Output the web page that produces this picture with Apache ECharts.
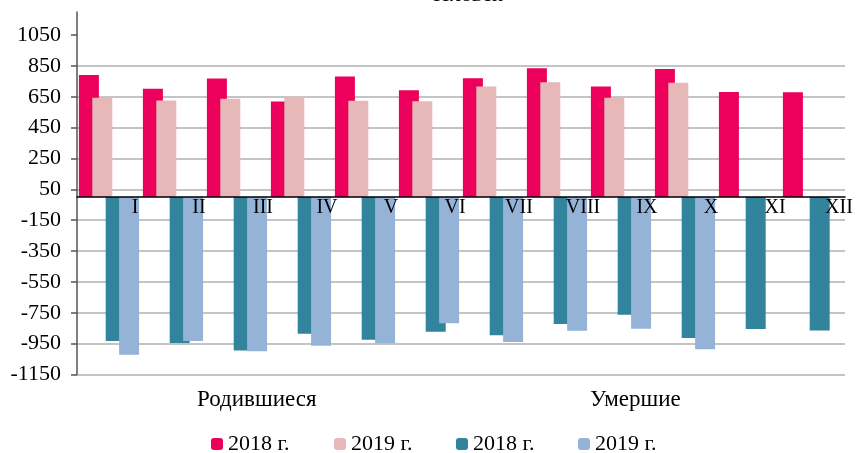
<!DOCTYPE html>
<html>
<head>
<meta charset="utf-8">
<script src="https://cdn.jsdelivr.net/npm/echarts@6/dist/echarts.min.js"></script>
<style>
html,body{margin:0;padding:0;background:#fff;}
#chart{width:856px;height:453px;}
</style>
</head>
<body>
<div id="chart"></div>
<script>
const categories = ['I','II','III','IV','V','VI','VII','VIII','IX','X','XI','XII'];
const births2018 = [791, 702, 769, 620, 782, 693, 771, 836, 717, 831, 682, 679];
const births2019 = [644, 627, 637, 650, 624, 622, 717, 745, 644, 741, null, null];
const deaths2018 = [-933, -946, -994, -886, -925, -873, -896, -823, -763, -914, -855, -864];
const deaths2019 = [-1022, -933, -1000, -964, -948, -818, -940, -866, -854, -987, null, null];
const yTicks = [-1150, -950, -750, -550, -350, -150, 50, 250, 450, 650, 850, 1050];
const seriesNames = ['2018 г.', '2019 г.', '2018 г. ', '2019 г. '];
const groupLabels = ['Родившиеся', 'Умершие'];
const titleText = 'Человек';

const FONT = '"Liberation Serif", "Times New Roman", serif';
const colors = ['#EC005C', '#E6B9B8', '#31849B', '#95B3D7'];

const chart = echarts.init(document.getElementById('chart'), null, {renderer: 'canvas'});

const legendLefts = [211, 334, 456, 578];
const legends = seriesNames.map((n, i) => ({
  data: [n],
  left: legendLefts[i],
  top: 433,
  itemWidth: 12,
  itemHeight: 12,
  padding: 0,
  selectedMode: false,
  textStyle: {fontFamily: FONT, fontSize: 22, color: '#000'}
}));

const seriesData = [births2018, births2019, deaths2018, deaths2019];
const yMin = -1150, yMax = 1200;
const gridTop = 12, gridBottom = 78.5, chartH = 453;
// distance from the bottom of the grid to the zero line, so category labels sit under the zero axis
const plotH = chartH - gridTop - gridBottom;
const zeroFromBottom = plotH * (0 - yMin) / (yMax - yMin);

const option = {
  animation: false,
  color: colors,
  title: {
    text: titleText,
    left: 426,
    top: -16,
    padding: 0,
    textStyle: {fontFamily: FONT, fontSize: 22, fontWeight: 'normal', color: '#000'}
  },
  legend: legends,
  grid: {left: 77, right: 11, top: gridTop, bottom: gridBottom, containLabel: false},
  xAxis: {
    type: 'category',
    z: 10,
    data: categories,
    axisLine: {onZero: true, lineStyle: {color: '#000', width: 1.5}},
    axisTick: {show: false},
    axisLabel: {
      fontFamily: FONT, fontSize: 20, color: '#000',
      margin: 1 - zeroFromBottom, padding: [0, 0, 0, 52], interval: 0
    },
    splitLine: {show: false}
  },
  yAxis: {
    type: 'value',
    min: yMin,
    max: yMax,
    axisLine: {show: true, lineStyle: {color: '#555', width: 1.5}},
    axisTick: {show: true, length: 6, customValues: yTicks, lineStyle: {color: '#555', width: 1.5}},
    axisLabel: {
      customValues: yTicks,
      formatter: v => String(v),
      fontFamily: FONT, fontSize: 22, color: '#000', margin: 16
    },
    splitLine: {show: true, showMaxLine: false, lineStyle: {color: '#b0b0b0', width: 1.5}}
  },
  graphic: [
    {type: 'text', left: 197, top: 388, style: {text: groupLabels[0], font: '23px ' + FONT, fill: '#000'}},
    {type: 'text', left: 590, top: 388, style: {text: groupLabels[1], font: '23px ' + FONT, fill: '#000'}}
  ],
  series: seriesNames.map((n, i) => ({
    name: n,
    type: 'bar',
    data: seriesData[i],
    barWidth: 20,
    barGap: '-33%',
    itemStyle: {color: colors[i]}
  }))
};
chart.setOption(option);
</script>
</body>
</html>
